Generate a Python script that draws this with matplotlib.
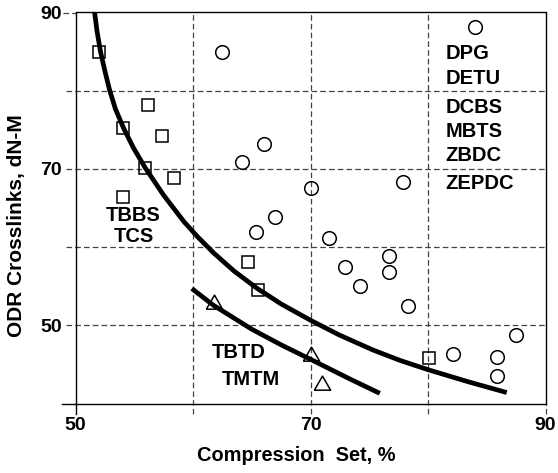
import matplotlib
matplotlib.use("Agg")
import matplotlib.pyplot as plt

plt.rcParams['font.family'] = ['Liberation Sans', 'DejaVu Sans']
plt.rcParams['font.weight'] = 'bold'

# ---- data ----
square_x = [52.0, 56.2, 54.0, 57.4, 55.9, 58.4, 54.0, 64.7, 65.5, 80.1]
square_y = [85.0, 78.2, 75.2, 74.2, 70.15, 68.9, 66.4, 58.1, 54.5, 45.8]

triangle_x = [61.8, 70.0, 71.0]
triangle_y = [52.7, 46.1, 42.4]

circle_x = [62.5, 84.0, 66.0, 64.2, 70.0, 77.9, 67.0, 65.4, 71.6, 72.9,
            76.7, 76.7, 74.2, 78.3, 82.1, 85.9, 85.9, 87.5]
circle_y = [85.0, 88.2, 73.2, 70.9, 67.6, 68.3, 63.8, 61.9, 61.2, 57.5,
            58.8, 56.85, 55.0, 52.5, 46.3, 46.0, 43.5, 48.8]

# trend curves
upper_curve_x = [51.60, 51.83, 52.13, 52.50, 52.90, 53.40, 54.10, 54.94, 55.93,
                 57.49, 59.23, 60.41, 61.79, 63.49, 65.45, 67.51, 69.96, 72.45,
                 75.32, 77.62, 80.03, 83.49, 86.70]
upper_curve_y = [90.32, 87.63, 84.99, 82.52, 80.09, 77.66, 75.19, 72.67, 70.15,
                 66.66, 63.25, 61.29, 59.21, 56.94, 54.73, 52.72, 50.68, 48.76,
                 46.84, 45.51, 44.31, 42.75, 41.40]
lower_curve_x = [59.9, 61.7, 65.0, 67.5, 70.0, 73.4, 75.9]
lower_curve_y = [54.7, 52.6, 49.5, 47.5, 45.65, 43.1, 41.3]

x_ticks = [50, 70, 90]
y_ticks = [50, 70, 90]
x_grid = [60, 70, 80]
y_grid = [50, 60, 70, 80]

labels_right = ["DPG", "DETU", "DCBS", "MBTS", "ZBDC", "ZEPDC"]
labels_right_y = [84.7, 81.5, 77.9, 74.8, 71.7, 68.1]

# ---- figure ----
fig = plt.figure(figsize=(5.58, 4.73), dpi=100)
W, H = 558, 473
left, right, top, bottom = 75.5, 545.5, 12.5, 403.5
ax = fig.add_axes([left / W, 1 - bottom / H, (right - left) / W, (bottom - top) / H])
ax.set_xlim(50, 90)
ax.set_ylim(40, 90)

ax_w = right - left
ax_h = bottom - top
ext_x = 10 / ax_h
ext_y = 10 / ax_w

grid_kw = dict(color='#444444', lw=0.9, ls=(0, (4.5, 2.5)), zorder=1, clip_on=False)
for gx in x_grid:
    ax.axvline(gx, ymin=-ext_x, ymax=1, **grid_kw)
for gy in y_grid:
    ax.axhline(gy, xmin=-ext_y, xmax=1, **grid_kw)
# outside extensions at the frame
ax.axvline(90, ymin=-ext_x, ymax=0, **grid_kw)
ax.axhline(90, xmin=-ext_y * 1.3, xmax=0, **grid_kw)
ax.axvline(50, ymin=-ext_x, ymax=0, color='black', lw=1.0, clip_on=False)
ax.axhline(40, xmin=-14 / ax_w, xmax=0, color='black', lw=1.0, clip_on=False)

for s in ax.spines.values():
    s.set_linewidth(1.0)
    s.set_color('black')

ax.set_xticks(x_ticks)
ax.set_yticks(y_ticks)
ax.set_xticklabels([str(v) for v in x_ticks])
ax.set_yticklabels([str(v) for v in y_ticks])
ax.tick_params(axis='both', length=0, labelsize=14)
ax.tick_params(axis='x', pad=10)
ax.tick_params(axis='y', pad=10)
for lab in ax.get_xticklabels() + ax.get_yticklabels():
    lab.set_fontweight('bold')

# curves
ax.plot(upper_curve_x, upper_curve_y, color='black', lw=3.4,
        solid_capstyle='butt', solid_joinstyle='round', zorder=3)
ax.plot(lower_curve_x, lower_curve_y, color='black', lw=3.4,
        solid_capstyle='butt', solid_joinstyle='round', zorder=3)

# markers
ax.plot(square_x, square_y, ls='none', marker='s', ms=8.0, mfc='none',
        mec='black', mew=1.1, zorder=4)
ax.plot(circle_x, circle_y, ls='none', marker='o', ms=9.8, mfc='none',
        mec='black', mew=1.1, zorder=4)
tri = [(-1, -0.577), (1, -0.577), (0, 1.155), (-1, -0.577)]
ax.plot(triangle_x, triangle_y, ls='none', marker=tri, ms=13.5, mfc='none',
        mec='black', mew=1.1, zorder=4)

# annotations
tkw = dict(fontsize=14.5, fontweight='bold', color='black', zorder=5)
for lab, yv in zip(labels_right, labels_right_y):
    ax.text(81.5, yv, lab, ha='left', va='center', **tkw)
ax.text(54.9, 64.0, "TBBS", ha='center', va='center', **tkw)
ax.text(55.0, 61.3, "TCS", ha='center', va='center', **tkw)
ax.text(61.6, 46.5, "TBTD", ha='left', va='center', **tkw)
ax.text(62.45, 43.1, "TMTM", ha='left', va='center', **tkw)

ax.set_xlabel("Compression  Set, %", fontsize=14.4, fontweight='bold')
ax.xaxis.set_label_coords((296.5 - left) / ax_w, (bottom - 455) / ax_h)
ax.set_ylabel("ODR Crosslinks, dN-M", fontsize=15, fontweight='bold')
ax.yaxis.set_label_coords((16.5 - left) / ax_w, (bottom - 226) / ax_h)
ax.xaxis.label.set_va('center')
ax.yaxis.label.set_va('center')

fig.savefig("out.png", dpi=100)
